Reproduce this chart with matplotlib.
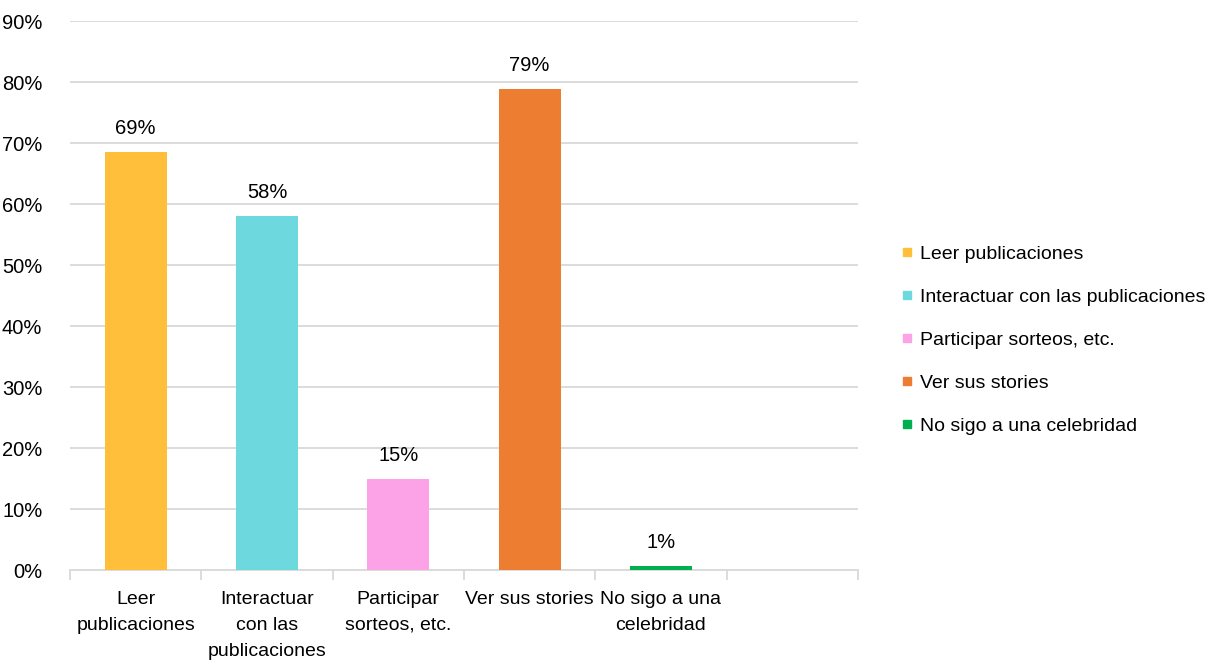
import matplotlib.pyplot as plt
from matplotlib.lines import Line2D
from matplotlib.ticker import MultipleLocator, FuncFormatter

plt.rcParams['font.family'] = ['Liberation Sans Narrow', 'Liberation Sans', 'DejaVu Sans']

categories = ['Leer\npublicaciones', 'Interactuar\ncon las\npublicaciones',
              'Participar\nsorteos, etc.', 'Ver sus stories', 'No sigo a una\ncelebridad']
series_names = ['Leer publicaciones', 'Interactuar con las publicaciones',
                'Participar sorteos, etc.', 'Ver sus stories', 'No sigo a una celebridad']
values = [68.6, 58.1, 15.0, 78.9, 0.6]
colors = ['#FFBF3B', '#6DD9DE', '#FCA2E6', '#ED7D31', '#00B050']
n_slots = 6

fig = plt.figure(figsize=(12.14, 6.67), dpi=100)
ax = fig.add_axes([0.0577, 0.1454, 0.649, 0.8231])

pos = list(range(len(values)))
bars = ax.bar(pos, values, width=0.47, color=colors, zorder=3)

for b, v in zip(bars, values):
    ax.annotate(f'{v:.0f}%', (b.get_x() + b.get_width() / 2, v),
                xytext=(0, 10), textcoords='offset points',
                ha='center', va='bottom', fontsize=14.5)

ax.set_xlim(-0.5, n_slots - 0.5)
ax.set_ylim(0, 90)
ax.yaxis.set_major_locator(MultipleLocator(10))
ax.yaxis.set_major_formatter(FuncFormatter(lambda y, _: f'{y:.0f}%'))
ax.grid(axis='y', color='#d9d9d9', linewidth=1.3, zorder=0)

ax.set_xticks(pos)
ax.set_xticklabels(categories, fontsize=14, linespacing=1.7)
ax.set_xticks([i - 0.5 for i in range(n_slots + 1)], minor=True)
ax.tick_params(axis='x', which='major', length=0, pad=15)
ax.tick_params(axis='x', which='minor', length=7, width=1.3, color='#d9d9d9')
ax.tick_params(axis='y', length=0, labelsize=14.5, pad=20)

for s in ['top', 'right', 'left']:
    ax.spines[s].set_visible(False)
ax.spines['bottom'].set_color('#d9d9d9')
ax.spines['bottom'].set_linewidth(1.3)

handles = [Line2D([], [], marker='s', linestyle='', markersize=6, color=c) for c in colors]
fig.legend(handles, series_names, loc='center left', bbox_to_anchor=(0.728, 0.490),
           frameon=False, fontsize=14, handlelength=0.6, handletextpad=0.35,
           labelspacing=1.3)

fig.savefig('out.png', dpi=100)
